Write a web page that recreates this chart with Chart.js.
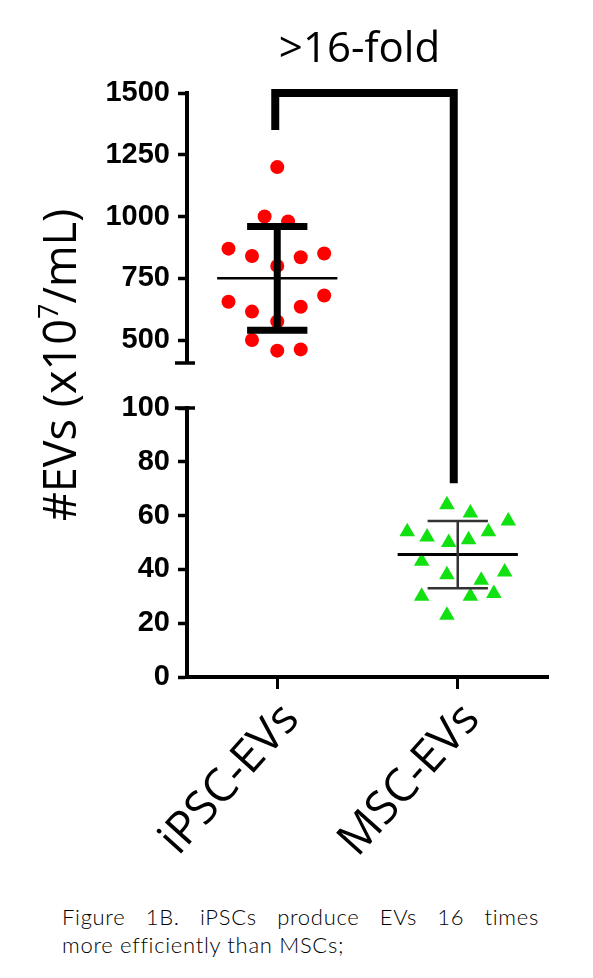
<!DOCTYPE html>
<html>
<head>
<meta charset="utf-8">
<script src="https://cdn.jsdelivr.net/npm/chart.js@4.4.0/dist/chart.umd.min.js"></script>
<style>
  html, body { margin: 0; padding: 0; background: #fff; }
  #wrap { position: relative; width: 593px; height: 978px; overflow: hidden; }
  #chart { position: absolute; left: 0; top: 0; }
  .caption { position: absolute; left: 62px; width: 477px; font: 300 22px Lato, sans-serif; color: #000; letter-spacing: 0.7px; white-space: nowrap; }
  #cap1 { top: 903px; text-align: justify; text-align-last: justify; white-space: normal; }
  #cap2 { top: 931px; }
</style>
</head>
<body>
<div id="wrap">
  <canvas id="chart" width="593" height="880"></canvas>
  <div class="caption" id="cap1">Figure 1B. iPSCs produce EVs 16 times</div>
  <div class="caption" id="cap2">more efficiently than MSCs;</div>
</div>
<script>
const categories = ['iPSC-EVs', 'MSC-EVs'];

// iPSC-EVs (upper axis), x spread inside the column and values
const ipscSpread = [0, -0.07, 0.06, -0.27, -0.14, 0.13, 0.26, 0, -0.27, 0.26, -0.14, 0.13, 0, -0.14, 0, 0.13];
const ipscValues = [1200, 1000, 980, 870, 840, 835, 850, 800, 655, 680, 615, 635, 575, 500, 457, 462];

// MSC-EVs (lower axis)
const mscSpread = [-0.06, 0.07, 0.28, -0.28, -0.17, 0.17, -0.05, 0.06, -0.2, -0.06, 0.13, 0.26, -0.2, 0.07, 0.2, -0.06];
const mscValues = [64, 61, 58, 54, 52, 54, 50, 51, 43, 38, 36, 39, 30, 30, 31, 23];

const groupMeans = [750, 45.5];
const groupSD = [210, 12.5];

const upperTicks = [500, 750, 1000, 1250, 1500];
const lowerTicks = [0, 20, 40, 60, 80, 100];

// significance bracket: left end (upper axis), right end (lower axis), top level
const bracketEnds = [1350, 72];
const bracketTop = 1500;
const bracketLabel = '>16-fold';

function points(spread, values, g) {
  return values.map((v, i) => ({ x: g + spread[i], y: v }));
}

function errorBar(g) {
  const m = groupMeans[g], s = groupSD[g];
  return [
    { x: g - 0.167, y: m + s }, { x: g + 0.167, y: m + s }, { x: g, y: null },
    { x: g, y: m + s }, { x: g, y: m - s }, { x: g + 0.01, y: null },
    { x: g - 0.167, y: m - s }, { x: g + 0.167, y: m - s }
  ];
}

function meanLine(g) {
  return [{ x: g - 0.333, y: groupMeans[g] }, { x: g + 0.333, y: groupMeans[g] }];
}

const lineBase = { showLine: true, pointRadius: 0, borderCapStyle: 'butt', spanGaps: false, parsing: false };

const extras = {
  id: 'extras',
  afterDraw(chart) {
    const { ctx, scales: { x, yTop, yBottom } } = chart;
    const x0 = x.getPixelForValue(0);
    const x1 = x.getPixelForValue(1);
    const yt = yTop.getPixelForValue(bracketTop);
    ctx.save();

    // bracket
    ctx.strokeStyle = '#000';
    ctx.lineWidth = 8;
    ctx.lineJoin = 'miter';
    ctx.beginPath();
    ctx.moveTo(x0 - 2, yTop.getPixelForValue(bracketEnds[0]));
    ctx.lineTo(x0 - 2, yt);
    ctx.lineTo(x1 - 4, yt);
    ctx.lineTo(x1 - 4, yBottom.getPixelForValue(bracketEnds[1]));
    ctx.stroke();

    // axis break caps
    const ax = yTop.right - 2;
    ctx.lineWidth = 3.5;
    ctx.beginPath();
    ctx.moveTo(ax - 10, yTop.bottom);
    ctx.lineTo(ax + 10, yTop.bottom);
    ctx.moveTo(ax - 10, yBottom.top);
    ctx.lineTo(ax + 10, yBottom.top);
    ctx.stroke();

    // bracket label
    ctx.fillStyle = '#000';
    ctx.font = '42px "Open Sans"';
    ctx.textAlign = 'center';
    ctx.textBaseline = 'alphabetic';
    ctx.fillText(bracketLabel, (x0 + x1) / 2 - 8, yt - 31);

    // y axis title with superscript
    const main = '45px "Open Sans"';
    const sup = '27px "Open Sans"';
    const parts = [['#EVs (x10', main, 0], ['7', sup, -18], ['/mL)', main, 0]];
    let total = 0;
    parts.forEach(p => { ctx.font = p[1]; total += ctx.measureText(p[0]).width; });
    const cy = (yTop.top + yBottom.bottom) / 2 - 20;
    ctx.translate(76, cy);
    ctx.rotate(-Math.PI / 2);
    ctx.textAlign = 'left';
    let pos = -total / 2;
    parts.forEach(p => {
      ctx.font = p[1];
      ctx.fillText(p[0], pos, p[2]);
      pos += ctx.measureText(p[0]).width;
    });
    ctx.restore();
  }
};

const yCommon = {
  position: 'left',
  stack: 'v',
  border: { color: '#000', width: 4 },
  grid: { drawOnChartArea: false, tickLength: 9, tickWidth: 3.5, tickColor: '#000' },
  ticks: {
    color: '#000',
    padding: 8,
    autoSkip: false,
    font: { family: '"Liberation Sans"', size: 29, weight: 'bold' },
    callback: v => String(v)
  },
  afterFit(scale) { scale.width = 187; }
};

new Chart(document.getElementById('chart'), {
  type: 'scatter',
  data: {
    datasets: [
      { ...lineBase, data: errorBar(0), yAxisID: 'yTop', borderColor: '#000', borderWidth: 7 },
      { ...lineBase, data: meanLine(0), yAxisID: 'yTop', borderColor: '#000', borderWidth: 2.5 },
      { ...lineBase, data: errorBar(1), yAxisID: 'yBottom', borderColor: '#333', borderWidth: 2.5 },
      { ...lineBase, data: meanLine(1), yAxisID: 'yBottom', borderColor: '#000', borderWidth: 3 },
      {
        data: points(ipscSpread, ipscValues, 0), yAxisID: 'yTop',
        pointStyle: 'circle', pointRadius: 7, backgroundColor: '#ff0000', borderWidth: 0
      },
      {
        data: points(mscSpread, mscValues, 1), yAxisID: 'yBottom',
        pointStyle: 'triangle', pointRadius: 9, backgroundColor: '#11e011', borderWidth: 0
      }
    ]
  },
  options: {
    responsive: false,
    animation: false,
    events: [],
    layout: { padding: { top: 93, right: 45, bottom: 0, left: 0 } },
    plugins: { legend: { display: false }, tooltip: { enabled: false } },
    scales: {
      x: {
        type: 'linear',
        min: -0.5,
        max: 1.5,
        border: { color: '#000', width: 4 },
        grid: { drawOnChartArea: false, tickLength: 12, tickWidth: 3, tickColor: '#000' },
        afterBuildTicks(scale) { scale.ticks = categories.map((c, i) => ({ value: i })); },
        ticks: {
          color: '#000',
          minRotation: 48,
          maxRotation: 48,
          autoSkip: false,
          padding: 4,
          labelOffset: 14,
          font: { family: '"Open Sans"', size: 46 },
          callback: v => categories[v]
        },
        afterFit(scale) { scale.height = 203; }
      },
      yBottom: {
        ...yCommon,
        type: 'linear',
        stackWeight: 269,
        min: 0,
        max: 100,
        afterBuildTicks(scale) { scale.ticks = lowerTicks.map(v => ({ value: v })); }
      },
      yGap: {
        type: 'linear',
        position: 'left',
        stack: 'v',
        stackWeight: 45,
        display: false
      },
      yTop: {
        ...yCommon,
        type: 'linear',
        stackWeight: 270,
        min: 407,
        max: 1500,
        afterBuildTicks(scale) { scale.ticks = upperTicks.map(v => ({ value: v })); }
      }
    }
  },
  plugins: [extras]
});
</script>
</body>
</html>
